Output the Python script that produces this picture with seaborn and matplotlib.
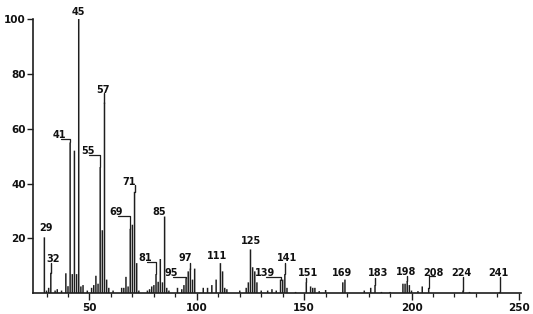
import matplotlib
matplotlib.use("Agg")
import matplotlib.pyplot as plt
import seaborn as sns
import pandas as pd
from matplotlib.ticker import MultipleLocator, FixedLocator

# m/z values and relative intensities
mz = [29, 30, 31, 32, 34, 35, 37, 39, 40, 41, 42, 43, 44, 45, 46, 47, 49, 51, 52, 53,
      54, 55, 56, 57, 58, 59, 61, 65, 66, 67, 68, 69, 70, 71, 72, 73, 77, 78, 79, 80,
      81, 82, 83, 84, 85, 86, 87, 91, 93, 94, 95, 96, 97, 98, 99, 103, 105, 107, 109, 111,
      112, 113, 114, 120, 123, 124, 125, 126, 127, 128, 130, 133, 135, 137, 139, 140, 141, 142, 146, 151,
      153, 154, 155, 157, 160, 168, 169, 178, 181, 183, 186, 190, 196, 197, 198, 199, 200, 203, 205, 208,
      224, 227, 241]
intensity = [20.4, 1.0, 2.0, 7.5, 1.0, 1.5, 1.0, 7.3, 2.6, 55.0, 7.0, 52.0, 7.0, 100.0, 2.5, 3.0, 1.0, 2.0, 3.0, 6.4,
             3.5, 46.0, 23.0, 69.5, 5.0, 2.0, 1.0, 2.0, 2.0, 6.0, 2.5, 23.5, 25.0, 37.0, 11.0, 1.0, 1.0, 1.5, 2.5, 3.0,
             7.0, 4.2, 12.5, 4.0, 28.0, 2.0, 1.0, 2.0, 1.5, 3.0, 5.5, 8.0, 9.0, 5.0, 9.0, 2.0, 2.0, 3.0, 5.0, 11.0,
             8.0, 2.0, 1.5, 1.0, 2.0, 4.0, 16.0, 9.5, 8.0, 4.0, 1.0, 1.0, 1.5, 1.0, 5.0, 5.0, 7.0, 2.0, 0.5, 4.0,
             2.5, 2.0, 2.0, 0.8, 1.2, 4.0, 5.0, 1.0, 2.0, 3.0, 0.5, 0.5, 3.5, 3.5, 4.5, 3.0, 1.0, 0.8, 2.5, 2.0,
             1.0, 0.5, 0.5]

# peak labels: m/z, text offset (m/z units), text height, leader kind, leader top
lab_mz = [29, 32, 41, 45, 55, 57, 69, 71, 81, 85, 95, 97, 111, 125, 139, 141, 151, 169, 183, 198, 208, 224, 241]
lab_dx = [0.7, 1.2, -4.8, 0.0, -5.8, -0.8, -6.5, -2.3, -5.0, -2.6, -6.8, -2.3, -1.5, 0.5, -7.4, 1.1, 0.8, -1.2,
          1.4, -0.5, 2.3, -0.8, -0.6]
lab_ty = [23.7, 12.5, 57.7, 102.4, 52.0, 74.0, 29.5, 40.7, 12.8, 29.6, 7.5, 13.0, 13.7, 19.1, 7.5, 13.0, 7.5,
          7.5, 7.5, 7.9, 7.5, 7.5, 7.5]
lab_kind = ['n', 'v', 'b', 'n', 'b', 'v', 'b', 'v', 'b', 'n', 'b', 'v', 'n', 'n', 'b', 'v', 'v', 'n', 'v', 'v',
            'b', 'v', 'v']
lab_ly = [None, 11.0, 56.2, None, 50.4, 73.0, 28.3, 39.5, 11.5, None, 6.1, 10.9, None, None, 5.8, 11.2, 5.5,
          None, 5.5, 6.3, 6.3, 5.8, 5.8]

yticks = [20, 40, 60, 80, 100]
xticks = [50, 100, 150, 200, 250]

sns.set_style("ticks")
plt.rcParams['font.family'] = ['DejaVu Sans']

df = pd.DataFrame({"mz": mz, "intensity": intensity})
ink = "#1e1e1e"

fig = plt.figure(figsize=(5.33, 3.14), dpi=100)
ax = fig.add_axes([0.0619, 0.0659, 0.9156, 0.8736])

sns.barplot(data=df, x="mz", y="intensity", native_scale=True, width=0.7,
            color=ink, errorbar=None, linewidth=0, saturation=1, ax=ax)
for p in ax.patches:
    p.set_snap(False)

lut = dict(zip(mz, intensity))
for m, dx, ty, kind, ly in zip(lab_mz, lab_dx, lab_ty, lab_kind, lab_ly):
    tx = m + dx
    ax.text(tx, ty, str(m), ha='center', va='center', fontsize=7, fontweight='bold',
            color='#111111', clip_on=False)
    top = lut.get(m, 0)
    if kind == 'v':
        ax.plot([m, m], [ly, top], color=ink, lw=1.0, clip_on=False)
    elif kind == 'b':
        x0 = tx + 0.7
        ax.plot([x0, m, m], [ly, ly, top], color=ink, lw=0.9, clip_on=False)

ax.set_xlim(23.7, 251)
ax.set_ylim(0, 100)
ax.xaxis.set_major_locator(FixedLocator(xticks))
ax.xaxis.set_minor_locator(MultipleLocator(10))
ax.yaxis.set_major_locator(FixedLocator(yticks))
ax.set_xticklabels([str(v) for v in xticks])
ax.set_yticklabels([str(v) for v in yticks])
ax.set_xlabel("")
ax.set_ylabel("")
ax.tick_params(axis='both', which='major', labelsize=7.5, width=1.0, color=ink)
ax.tick_params(axis='x', which='major', length=5, pad=2)
ax.tick_params(axis='y', which='major', length=4, pad=1)
ax.tick_params(axis='x', which='minor', length=3, width=0.9, color=ink)
for lab in ax.get_xticklabels() + ax.get_yticklabels():
    lab.set_fontweight('bold')
    lab.set_color('#111111')

for s in ['top', 'right']:
    ax.spines[s].set_visible(False)
for s in ['left', 'bottom']:
    ax.spines[s].set_linewidth(1.2)
    ax.spines[s].set_color(ink)

fig.savefig("out.png", dpi=100, facecolor='white')
